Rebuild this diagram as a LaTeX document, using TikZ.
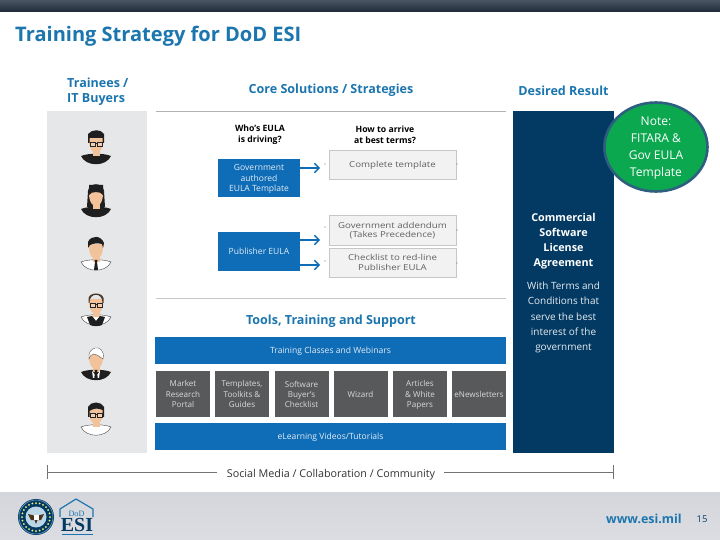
\documentclass[tikz,border=0pt]{standalone}
\usepackage{fontspec}
\setmainfont{Open Sans}
\newfontfamily\logofont{Liberation Serif}
\newfontfamily\widefont[FakeStretch=1.18]{Open Sans}
\usepackage{xcolor}
\usetikzlibrary{positioning,calc,arrows.meta,shapes.geometric}
\definecolor{esiblue}{HTML}{1B75AE}
\definecolor{esibox}{HTML}{0F6CB6}
\definecolor{esinavy}{HTML}{033A63}
\definecolor{esigrey}{HTML}{58595B}
\definecolor{esipanel}{HTML}{E6E7E9}
\definecolor{esiskin}{HTML}{F2C29A}
\definecolor{esigreen}{HTML}{0BA84F}
\definecolor{esiring}{HTML}{2F5F7F}
\definecolor{esibandtop}{HTML}{4A5563}
\definecolor{esibandend}{HTML}{1F2A38}
\definecolor{esifoot}{HTML}{D4D6DB}
\definecolor{esifootend}{HTML}{DCDDE2}
\def\px{0.03cm}
\tikzset{
  headtext/.style ={font=\fontsize{10.7}{12.8}\selectfont\bfseries, text=esiblue, align=center},
  asktext/.style  ={font=\fontsize{7.4}{9.2}\selectfont\bfseries, text=black, align=center},
  bluebox/.style  ={fill=esibox, text=white!88!esibox, align=center, inner sep=0pt, text depth=-1.5pt, font=\fontsize{7.3}{9}\selectfont},
  termbox/.style  ={fill=black!5, draw=black!22, line width=0.4pt, text=black!62, align=center, inner sep=0pt, text depth=-1.5pt, font=\fontsize{7}{8.2}\selectfont\widefont},
  toolbox/.style  ={fill=esigrey, text=white!85!black, align=center, inner sep=0pt, text depth=-1.5pt, font=\fontsize{6.9}{8.6}\selectfont,
    minimum width=54*\px, minimum height=46*\px},
  leadarrow/.style={-{Straight Barb[length=4pt,width=8pt]}, draw=esibox, line width=1.2pt},
  skin/.style     ={fill=esiskin},
  ink/.style      ={fill=black!88},
  shirt/.style    ={fill=white, draw=black!80, line width=0.3pt},
  specs/.style    ={draw=black!85, line width=0.4pt, fill=white, fill opacity=0.2},
  % shoulders plus neck and face, origin at the middle of the face
  torso/.pic={
    \path[pic actions] (-15,11) .. controls (-10,22) and (10,22) .. (15,11) .. controls (8,8) and (-8,8) .. cycle;
    \fill[skin] (-3.5,4) rectangle (3.5,11);
    \fill[skin] (-7,-5) .. controls (-7,5) and (-3,8) .. (0,8) .. controls (3,8) and (7,5) .. (7,-5) -- (7,-7) -- (-7,-7) -- cycle;
  },
  lenses/.pic={
    \draw[specs] (-6,-3) rectangle (-0.8,1);
    \draw[specs] (0.8,-3) rectangle (6,1);
    \draw[black!85, line width=0.4pt] (-0.8,-2) -- (0.8,-2);
  },
  necktie/.pic={
    \fill[ink] (-1.5,9) -- (1.5,9) -- (1,11) -- (2,19) -- (-2,19) -- (-1,11) -- cycle;
  },
}
\begin{document}
\begin{tikzpicture}[x=\px,y=-\px]
\useasboundingbox (0,0) rectangle (720,540);
\fill[white] (0,0) rectangle (720,540);
% top band and footer
\shade[top color=esibandtop, bottom color=esibandend] (0,0) rectangle (720,12);
\shade[top color=esifoot, bottom color=esifootend] (0,492) rectangle (720,540);
\node[anchor=base west, inner sep=0pt, font=\fontsize{17.1}{18}\selectfont\bfseries, text=esiblue] (title) at (15,42) {Training Strategy for DoD ESI};

% column heads
\node[headtext, align=left, anchor=north west, inner sep=0pt] (trainees) at (67,78) {Trainees /\\IT Buyers};
\node[headtext] (core) at (331,90.5) {Core Solutions / Strategies};
\node[headtext] (desired) at (563.5,90.5) {Desired Result};
\node[asktext] (who) at (260,134.5) {Who's EULA\\is driving?};
\node[asktext] (how) at (385,134.5) {How to arrive\\at best terms?};
\node[headtext] (tools) at (331,321) {Tools, Training and Support};

% panels and rules
\fill[esipanel] (47,111) rectangle (147,453);
\fill[esinavy] (513,111) rectangle (614,453);
\draw[black!30, line width=1pt] (156,111.5) -- (506,111.5);
\draw[black!22, line width=0.5pt] (156,298) -- (506,298);

% who is driving
\node[bluebox, minimum width=82*\px, minimum height=38*\px] (govbox) at (259,178) {Government\\authored\\EULA Template};
\node[bluebox, minimum width=82*\px, minimum height=39*\px] (pubbox) at (259,251.5) {Publisher EULA};
\node[termbox, minimum width=127*\px, minimum height=29*\px] (complete) at (392.5,164.5) {Complete template};
\node[termbox, minimum width=127*\px, minimum height=30*\px] (addendum) at (392.5,230) {Government addendum\\(Takes Precedence)};
\node[termbox, minimum width=127*\px, minimum height=29*\px] (redline) at (392.5,262.5) {Checklist to red-line\\Publisher EULA};
\coordinate (govtip) at (320,168);
\coordinate (addtip) at (320,240);
\coordinate (redtip) at (320,265);
\draw[leadarrow] (govbox.east |- govtip) -- (govtip);
\draw[leadarrow] (pubbox.east |- addtip) -- (addtip);
\draw[leadarrow] (pubbox.east |- redtip) -- (redtip);
% small specks beside the grey boxes
\foreach \xs/\ys in {325/164,325/227,325/261,457/164,457/230,457/263} {
  \fill[black!55] (\xs,\ys) circle (0.6);
}

% desired result
\node[text=white, align=center, font=\fontsize{9.2}{12.9}\selectfont\bfseries] (license) at (563.5,241) {Commercial\\Software\\License\\Agreement};
\node[text=white!90!esinavy, align=center, font=\fontsize{8.5}{13}\selectfont] (terms) at (563.5,317.5) {With Terms and\\Conditions that\\serve the best\\interest of the\\government};
\node[ellipse, minimum width=103*\px, minimum height=89*\px, inner sep=0pt, fill=esigreen, draw=esiring, line width=2.2pt, text=white, align=center, text depth=-1.5pt,
  font=\fontsize{10.3}{14.6}\selectfont] (note) at (656,147) {Note:\\FITARA \&\\Gov EULA\\Template};

% tools
\node[bluebox, minimum width=351*\px, minimum height=27*\px] (classes) at (330.5,350.5) {Training Classes and Webinars};
\node[bluebox, minimum width=351*\px, minimum height=27*\px] (elearn) at (330.5,436.5) {eLearning Videos/Tutorials};
\foreach \xc/\nm/\txt in {%
  183/market/{Market\\Research\\Portal},
  242/templates/{Templates,\\Toolkits \&\\Guides},
  301.5/buyers/{Software\\Buyer's\\Checklist},
  360.5/wizard/{Wizard},
  420/articles/{Articles\\\& White\\Papers},
  479/enews/{eNewsletters}%
} {
  \node[toolbox] (\nm) at (\xc,394) {\txt};
}

% social media line
\node[font=\fontsize{9.2}{10}\selectfont, text=black!80, inner sep=0pt] (social) at (331,474.5) {Social Media / Collaboration / Community};
\coordinate (barleft) at (47,472);
\coordinate (barright) at (613,472);
\coordinate (gapleft) at (217,472);
\coordinate (gapright) at (444,472);
\draw[black!55, line width=0.5pt] (barleft) -- (gapleft);
\draw[black!55, line width=0.5pt] (gapright) -- (barright);
\draw[black!55, line width=0.5pt] ($(barleft)+(0,-7)$) -- ($(barleft)+(0,7)$);
\draw[black!55, line width=0.5pt] ($(barright)+(0,-7)$) -- ($(barright)+(0,7)$);

% six people, face centre given by the shifts
\begin{scope}[shift={(96,145)}]
  \pic[ink] {torso};
  \fill[ink] (-8,-2) -- (-8,-11) .. controls (-4,-16) and (5,-16) .. (8,-11) -- (8,-2) -- (6.5,-2) -- (6.5,-7) -- (-6.5,-7) -- (-6.5,-2) -- cycle;
  \pic {lenses};
\end{scope}
\begin{scope}[shift={(96,198)}]
  \fill[ink] (-8,-7) .. controls (-7,-16) and (7,-16) .. (8,-7) -- (9,9) -- (-9,9) -- cycle;
  \pic[ink] {torso};
  \fill[ink] (-7,-3) .. controls (-5,-7) and (5,-7) .. (7,-3) -- (7,-13) -- (-7,-13) -- cycle;
\end{scope}
\begin{scope}[shift={(96,251)}]
  \pic[shirt] {torso};
  \pic {necktie};
  \fill[ink] (-8,-3) -- (-8,-9) .. controls (-5,-16) and (5,-16) .. (8,-8) -- (7,-3) -- (6,-7) .. controls (2,-8) and (-2,-8) .. (-6,-6) -- cycle;
\end{scope}
\begin{scope}[shift={(96,306)}]
  \pic[shirt] {torso};
  \fill[ink] (-9,11) -- (-4,10) -- (0,15) -- (4,10) -- (9,11) -- (6,19) .. controls (3,20.5) and (-3,20.5) .. (-6,19) -- cycle;
  \fill[black!70!esiskin] (-7.5,-3) -- (-7.5,-8) .. controls (-6,-14) and (6,-14) .. (7.5,-8) -- (7.5,-3) -- (6.5,-3) .. controls (7,-14) and (-7,-14) .. (-6.5,-3) -- cycle;
  \pic {lenses};
\end{scope}
\begin{scope}[shift={(96,361)}]
  \pic[ink] {torso};
  \fill[white] (-4,10) -- (0,15) -- (4,10) -- (3,17) -- (-3,17) -- cycle;
  \pic {necktie};
  \fill[white, draw=black!70, line width=0.3pt] (7,-2) .. controls (9,-11) and (3,-14) .. (-1,-13) .. controls (-5,-12) and (-8,-8) .. (-7,-2) .. controls (-5,-8) and (-2,-9) .. cycle;
\end{scope}
\begin{scope}[shift={(96,416)}]
  \pic[shirt] {torso};
  \fill[ink] (-8,1) -- (-8,-9) .. controls (-5,-15) and (5,-15) .. (8,-9) -- (8,1) -- (6.5,1) -- (6.5,-6) .. controls (2,-8) and (-2,-8) .. (-6.5,-5) -- (-6.5,1) -- cycle;
  \pic {lenses};
\end{scope}

% footer logos and text
\begin{scope}[shift={(36,517)}]
  \fill[esinavy] (0,0) circle (18);
  \draw[esiblue!60, line width=0.4pt] (0,0) circle (17);
  \foreach \a in {0,15,...,345} {
    \fill[yellow!55!white] (\a:14) circle (1);
  }
  \fill[esiblue!30] (0,0) circle (10.5);
  \fill[black!60!brown] (-8,-3) -- (0,-1) -- (8,-3) -- (5,3) -- (1.5,3) -- (0,7) -- (-1.5,3) -- (-5,3) -- cycle;
  \fill[white] (-2.5,-2) rectangle (2.5,3);
\end{scope}
\draw[esiblue, line width=1pt, line join=round] (60,517) -- (60,509) -- (76,499) -- (93,509) -- (93,517);
\node[font=\fontsize{7}{7}\selectfont\logofont, text=esiblue, inner sep=0pt] (dod) at (76.5,513.5) {DoD};
\node[font=\fontsize{17}{17}\selectfont\logofont\bfseries, text=esinavy, inner sep=0pt] (esi) at (77,525.5) {ESI};
\draw[esiblue, line width=0.8pt] (62,534) -- (93,534);
\node[anchor=base east, inner sep=0pt, font=\fontsize{10.6}{11}\selectfont\bfseries, text=esiblue] (web) at (682,523) {www.esi.mil};
\node[anchor=base, inner sep=0pt, font=\fontsize{8}{10}\selectfont, text=esinavy] (page) at (702,522) {15};
\end{tikzpicture}
\end{document}
